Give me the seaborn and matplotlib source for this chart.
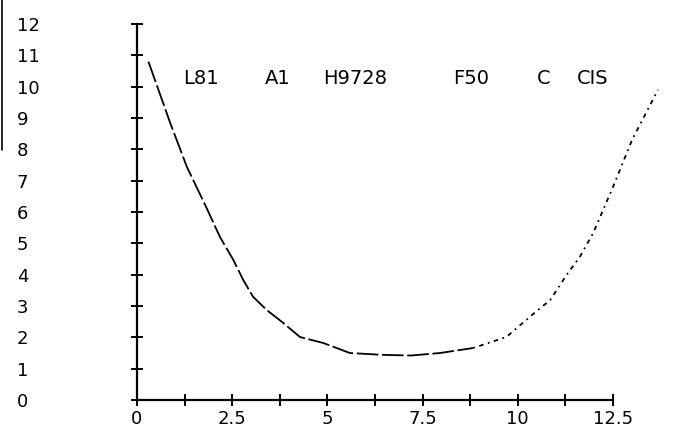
import matplotlib.pyplot as plt
import seaborn as sns
import pandas as pd
from matplotlib.lines import Line2D

# curve values
x_vals = [0.3, 0.87, 1.31, 1.8, 2.18, 2.53, 2.79, 3.05, 3.41, 3.84, 4.28, 4.89, 5.59,
          6.46, 7.2, 7.96, 8.83, 9.7, 10.37, 10.85, 11.28, 11.63, 11.98, 12.5, 13.0, 13.68]
y_vals = [10.8, 8.85, 7.44, 6.2, 5.2, 4.47, 3.83, 3.29, 2.87, 2.46, 2.01, 1.82, 1.5,
          1.44, 1.42, 1.5, 1.66, 2.01, 2.71, 3.19, 3.99, 4.57, 5.33, 6.8, 8.3, 9.9]
split_at = 8.83  # dashed part to the left, dotted part to the right

x_major = [0, 2.5, 5, 7.5, 10, 12.5]
x_minor = [1.25, 3.75, 6.25, 8.75, 11.25]
x_labels = ["0", "2.5", "5", "7.5", "10", "12.5"]
y_ticks = list(range(0, 13))
y_labels = [str(v) for v in y_ticks]

words = ["L81", "A1", "H9728", "F50", "C", "CIS"]

df = pd.DataFrame({"x": x_vals, "y": y_vals})
left = df[df.x <= split_at]
right = df[df.x >= split_at]

sns.set_style("white")
plt.rcParams["font.family"] = ["DejaVu Sans"]

fig = plt.figure(figsize=(6.9, 4.38), dpi=100)
ax = fig.add_axes([137 / 690, 38 / 438, (690 - 137) / 690, (400 - 8) / 438])

sns.lineplot(data=left, x="x", y="y", ax=ax, color="black", linewidth=1.3,
             sort=False, dashes=False, linestyle=(0, (12, 2)))
sns.lineplot(data=right, x="x", y="y", ax=ax, color="black", linewidth=1.3,
             sort=False, dashes=False, linestyle=(0, (1, 2.5, 2.5, 2.5)))

ax.set_xlim(0, (690 - 137) / 38.08)
ax.set_ylim(0, 392 / 31.33)

for s in ["top", "right"]:
    ax.spines[s].set_visible(False)
ax.spines["left"].set_bounds(0, 12)
ax.spines["bottom"].set_bounds(0, 12.5)
for s in ["left", "bottom"]:
    ax.spines[s].set_color("black")
    ax.spines[s].set_linewidth(1.6)

ax.set_xticks(x_major)
ax.set_xticks(x_minor, minor=True)
ax.set_xticklabels(x_labels)
ax.set_yticks(y_ticks)
ax.set_yticklabels(y_labels)

ax.tick_params(axis="both", which="both", direction="inout", length=9, width=1.4,
               color="black", labelsize=13, labelcolor="black")
ax.tick_params(axis="x", which="both", bottom=True, pad=3)
ax.tick_params(axis="y", left=True, pad=82)
for lab in ax.get_yticklabels():
    lab.set_horizontalalignment("left")

ax.set_xlabel("")
ax.set_ylabel("")

# header text, spread over the top like the plotter output
word_x = [0.083, 0.231, 0.336, 0.571, 0.723, 0.796]
for w, wx in zip(words, word_x):
    ax.text(wx, 0.82, w, transform=ax.transAxes, fontsize=14,
            ha="left", va="center", color="black")

# scanner edge line at far left
fig.add_artist(Line2D([2 / 690, 2 / 690], [1, 1 - 150 / 438], transform=fig.transFigure,
                      color="black", linewidth=1.2))

fig.savefig("out.png", dpi=100)
